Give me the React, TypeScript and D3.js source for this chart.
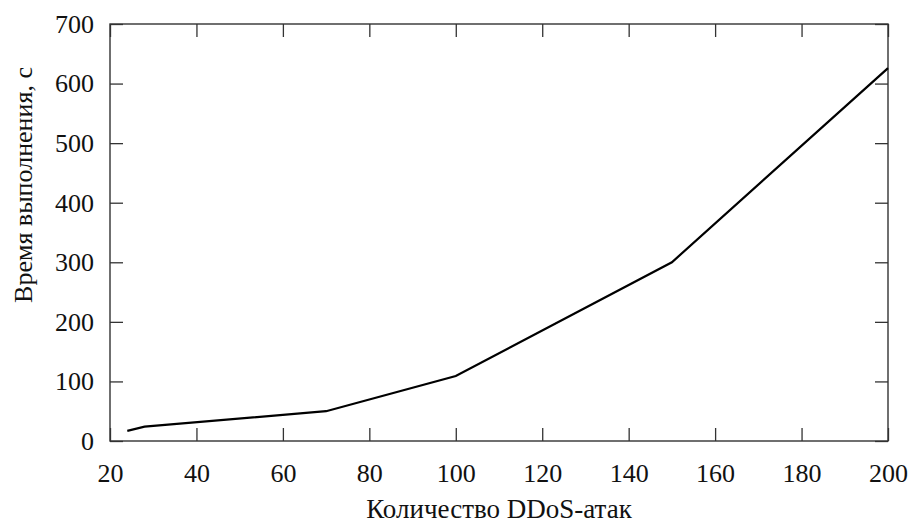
import React, { useEffect, useRef } from 'react';
import * as d3 from 'd3';

const attacks = [24, 28, 70, 100, 150, 200];
const runTime = [17, 24, 50, 109, 300, 626];
const xTicks = [20, 40, 60, 80, 100, 120, 140, 160, 180, 200];
const yTicks = [0, 100, 200, 300, 400, 500, 600, 700];
const xTitle = 'Количество DDoS-атак';
const yTitle = 'Время выполнения, с';

const App = () => {
  const ref = useRef<SVGSVGElement>(null);

  useEffect(() => {
    const width = 912;
    const height = 525;
    const margin = { top: 24, left: 110, bottom: 84, right: 24 };
    const iwidth = width - margin.left - margin.right;
    const iheight = height - margin.top - margin.bottom;

    const svg = d3.select(ref.current);
    svg.selectAll('*').remove();
    svg.attr('width', width).attr('height', height);

    const g = svg.append('g').attr('transform', `translate(${margin.left},${margin.top})`);

    const x = d3.scaleLinear().domain([20, 200]).range([0, iwidth]);
    const y = d3.scaleLinear().domain([0, 700]).range([iheight, 0]);

    const tickLen = 13;
    const font = 'Liberation Serif';

    // ticks point inward on all four sides, labels only bottom and left
    const bottom = g.append('g')
      .attr('transform', `translate(0,${iheight})`)
      .call(d3.axisBottom(x).tickValues(xTicks).tickSize(-tickLen).tickPadding(23).tickSizeOuter(0));

    const left = g.append('g')
      .call(d3.axisLeft(y).tickValues(yTicks).tickSize(-tickLen).tickPadding(16).tickSizeOuter(0));

    [bottom, left].forEach((a) => {
      a.attr('font-family', font).attr('font-size', 26);
      a.selectAll('text').attr('font-family', font).attr('font-size', 26).attr('fill', '#111');
    });

    const top = g.append('g')
      .call(d3.axisTop(x).tickValues(xTicks).tickSize(-tickLen).tickSizeOuter(0).tickFormat(() => ''));
    const right = g.append('g')
      .attr('transform', `translate(${iwidth},0)`)
      .call(d3.axisRight(y).tickValues(yTicks).tickSize(-tickLen).tickSizeOuter(0).tickFormat(() => ''));

    [bottom, left, top, right].forEach((a) => {
      a.select('.domain').remove();
      a.selectAll('line').attr('stroke', '#333').attr('stroke-width', 1.3);
    });

    g.append('rect')
      .attr('width', iwidth)
      .attr('height', iheight)
      .attr('fill', 'none')
      .attr('stroke', '#333')
      .attr('stroke-width', 1.4);

    const line = d3.line<number>()
      .x((d, i) => x(attacks[i]))
      .y((d) => y(d));

    g.append('path')
      .datum(runTime)
      .attr('d', line)
      .attr('fill', 'none')
      .attr('stroke', '#000')
      .attr('stroke-width', 2.2);

    svg.append('text')
      .attr('x', 499)
      .attr('y', 518)
      .attr('text-anchor', 'middle')
      .attr('font-family', font)
      .attr('font-size', 27)
      .attr('fill', '#111')
      .text(xTitle);

    svg.append('text')
      .attr('transform', 'translate(32,185) rotate(-90)')
      .attr('text-anchor', 'middle')
      .attr('font-family', font)
      .attr('font-size', 26)
      .attr('fill', '#111')
      .text(yTitle);
  }, []);

  return (
    <div style={{ position: 'absolute', left: 0, top: 0 }}>
      <svg ref={ref}></svg>
    </div>
  );
};

export default App;
